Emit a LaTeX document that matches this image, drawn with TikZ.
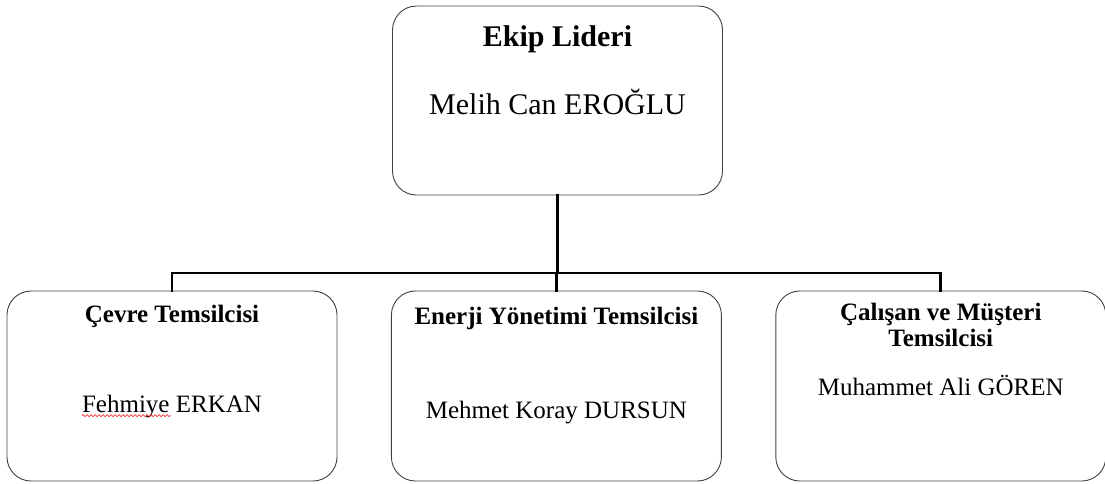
\documentclass[tikz,border=0pt]{standalone}
\usepackage{fontspec}
\setmainfont{Liberation Serif}
\usetikzlibrary{positioning,decorations.pathmorphing}

\begin{document}
\begin{tikzpicture}
	[
	 x = 1pt, y = 1pt,
	 kutu/.style = {shape=rectangle,
	                draw = black!75,
	                line width = 0.9pt,
	                rounded corners = 24pt,
	                minimum width = 330pt,
	                minimum height = 190pt,
	                inner sep = 0pt
	               },
	 baslik/.style = {anchor = base,
	                  align = center,
	                  inner sep = 0pt,
	                  font = \fontsize{#1}{26}\selectfont\bfseries},
	 baslik/.default = 25,
	 isim/.style = {anchor = base,
	                inner sep = 0pt,
	                font = \fontsize{#1}{30}\selectfont},
	 isim/.default = 25,
	 baglanti/.style = {line width = 2.8pt, line cap = rect},
	 imla/.style = {draw = red, line width = 0.6pt, decorate,
	                decoration = {snake, amplitude = 1pt, segment length = 4pt}}
	]

	\newcommand{\CMT}{Çalışan ve Müşteri\\Temsilcisi}

	\useasboundingbox (0,0) rectangle (1105,-483);

	% kutular
	\node [kutu, minimum height = 189pt] (lider) at (557.5,-100.5) {};
	\node [kutu] (cevre)   at (172,-386) {};
	\node [kutu, right = 53.5pt of cevre]  (enerji)  {};
	\node [kutu, right = 53.5pt of enerji] (calisan) {};

	% yazilar
	\node [baslik = 30] (liderB) at ([yshift=-41pt]lider.north)   {Ekip Lideri};
	\node [isim = 30]   (liderI) at ([yshift=-109pt]lider.north)  {Melih Can EROĞLU};
	\node [baslik]      (cevreB) at ([yshift=-32pt]cevre.north)   {Çevre Temsilcisi};
	\node [isim]        (cevreI) at ([yshift=-122pt]cevre.north)  {Fehmiye ERKAN};
	\node [baslik]      (enerjiB) at ([yshift=-34pt]enerji.north) {Enerji Yönetimi Temsilcisi};
	\node [isim]        (enerjiI) at ([yshift=-128pt]enerji.north) {Mehmet Koray DURSUN};
	\node [baslik]      (calisanB) at ([yshift=-56pt]calisan.north) {\CMT};
	\node [isim]        (calisanI) at ([yshift=-105pt]calisan.north) {Muhammet Ali GÖREN};

	\draw [imla] ([yshift=-3pt]cevreI.base west) -- ++(89,0);

	% baglantilar
	\coordinate (hat) at (0,-273);
	\draw [baglanti] (lider.south) -- (lider.south |- hat);
	\draw [baglanti] (cevre.north) |- (lider.south |- hat) -| (calisan.north);
	\draw [baglanti] (enerji.north) -- (enerji.north |- hat);
\end{tikzpicture}
\end{document}
